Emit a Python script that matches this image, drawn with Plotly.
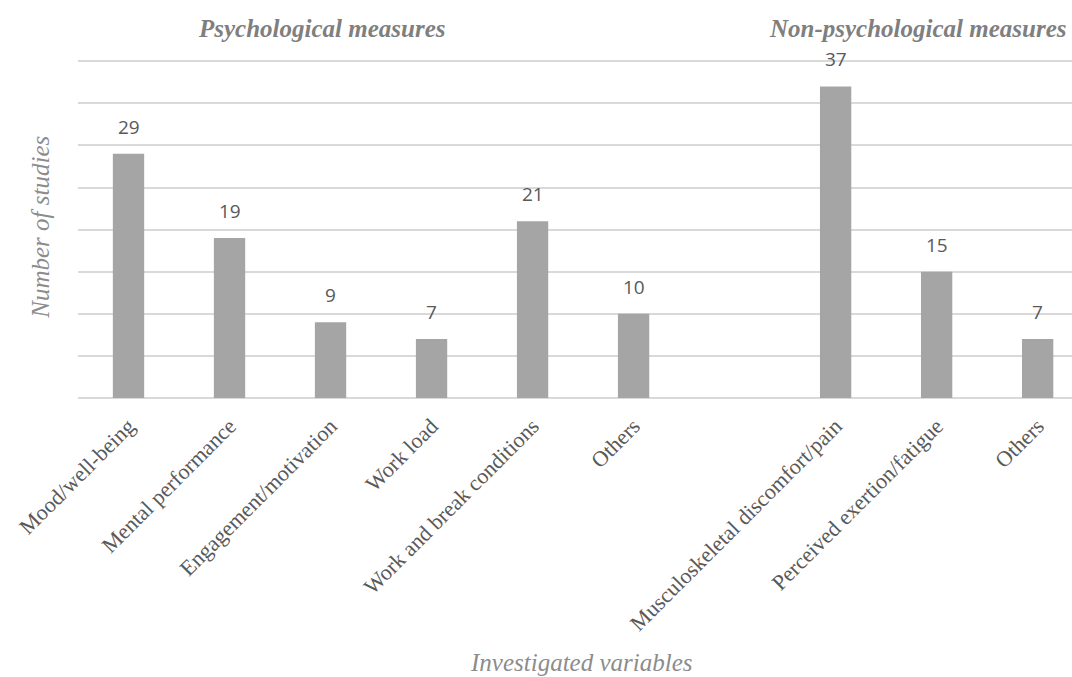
import plotly.graph_objects as go

# Study counts per investigated variable, split into two measure groups
psych_labels = ["Mood/well-being", "Mental performance", "Engagement/motivation",
                "Work load", "Work and break conditions", "Others"]
psych_values = [29, 19, 9, 7, 21, 10]

nonpsych_labels = ["Musculoskeletal discomfort/pain", "Perceived exertion/fatigue", "Others"]
nonpsych_values = [37, 15, 7]

group_titles = ["Psychological measures", "Non-psychological measures"]

# slot positions: one empty slot separates the two groups
psych_x = list(range(len(psych_labels)))
nonpsych_x = [len(psych_labels) + 1 + i for i in range(len(nonpsych_labels))]

all_x = psych_x + nonpsych_x
all_y = psych_values + nonpsych_values
all_labels = psych_labels + nonpsych_labels

BAR = "#A5A5A5"
GRID = "#D9D9D9"
TXT = "#595959"
SERIF = "Liberation Serif, Times New Roman, serif"

fig = go.Figure()
fig.add_trace(go.Bar(x=all_x, y=all_y, width=0.31, marker=dict(color=BAR, line=dict(width=0)),
                     hoverinfo="x+y"))

# value labels above each bar
for xv, yv in zip(all_x, all_y):
    fig.add_annotation(x=xv, y=yv, text=str(yv), showarrow=False, yanchor="bottom",
                       yshift=12, font=dict(family="Open Sans, sans-serif", size=19, color=TXT))

# group headers
fig.add_annotation(x=sum(psych_x) / len(psych_x) - 0.58, y=1.0, yref="paper", yshift=29,
                   yanchor="middle",
                   text="<b><i>" + group_titles[0] + "</i></b>", showarrow=False,
                   font=dict(family=SERIF, size=25, color="#7F7F7F"))
fig.add_annotation(x=sum(nonpsych_x) / len(nonpsych_x) - 0.18, y=1.0, yref="paper", yshift=29,
                   yanchor="middle",
                   text="<b><i>" + group_titles[1] + "</i></b>", showarrow=False,
                   font=dict(family=SERIF, size=25, color="#7F7F7F"))

# axis titles
fig.add_annotation(x=-0.038, xref="paper", xanchor="center", y=0.5, yref="paper",
                   yanchor="middle", showarrow=False,
                   text="<i>Number of studies</i>", textangle=-90,
                   font=dict(family=SERIF, size=25, color="#8C8C8C"))
fig.add_annotation(x=0.506, xref="paper", y=-0.777, yref="paper", yanchor="middle",
                   showarrow=False, text="<i>Investigated variables</i>",
                   font=dict(family=SERIF, size=25, color="#8C8C8C"))

fig.update_layout(
    width=1072, height=677,
    margin=dict(l=78, r=0, t=57, b=279),
    plot_bgcolor="white", paper_bgcolor="white",
    showlegend=False,
    bargap=0.69,
)
fig.update_xaxes(
    range=[-0.5, 9.34], tickvals=all_x, ticktext=all_labels, tickangle=-45,
    tickfont=dict(family=SERIF, size=22, color=TXT),
    showgrid=False, zeroline=False, showline=False, ticks="",
    ticklabelstandoff=10,
)
fig.update_yaxes(
    range=[0, 40.5], tickvals=[0, 5, 10, 15, 20, 25, 30, 35, 40], showticklabels=False,
    showgrid=True, gridcolor=GRID, gridwidth=1.5,
    zeroline=True, zerolinecolor=GRID, zerolinewidth=2, showline=False,
)

fig.write_html("out.html")
